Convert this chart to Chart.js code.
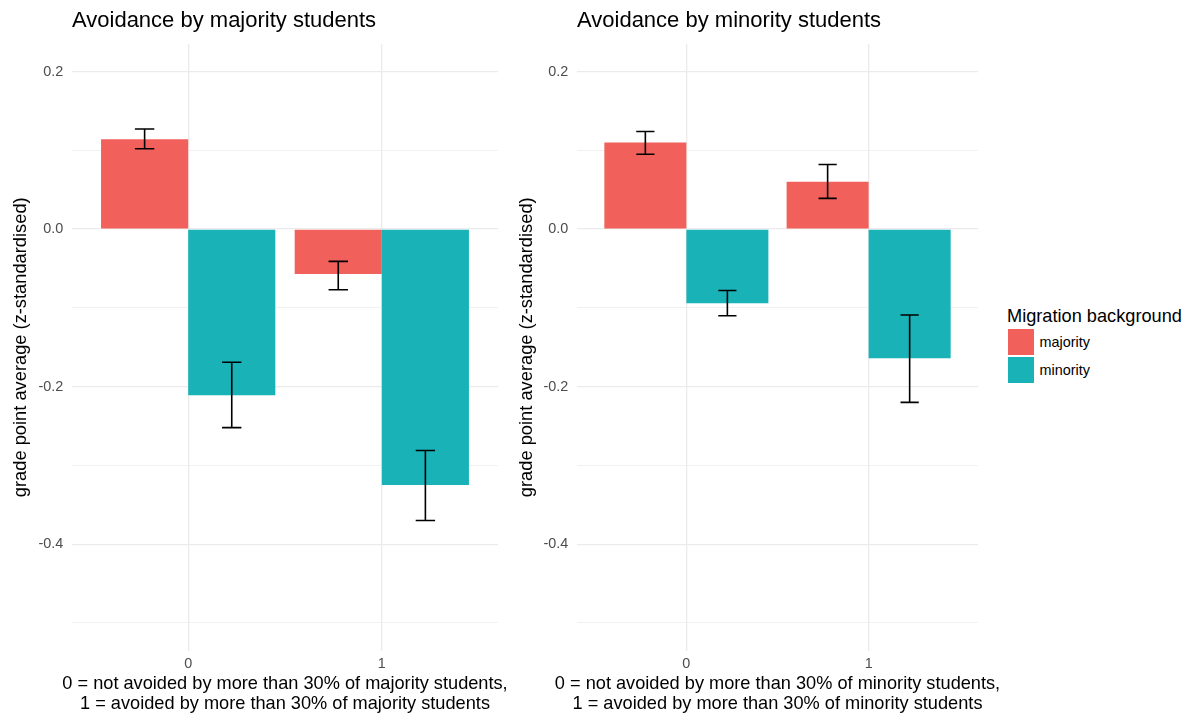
<!DOCTYPE html>
<html>
<head>
<meta charset="utf-8">
<title>Avoidance and grade point average</title>
<script src="https://cdn.jsdelivr.net/npm/chart.js@4.4.1/dist/chart.umd.min.js"></script>
<style>
  html, body { margin: 0; padding: 0; background: #ffffff; }
  body { width: 1197px; height: 714px; position: relative; overflow: hidden;
         font-family: 'Liberation Sans', Arial, Helvetica, sans-serif; }
  .panel { position: absolute; top: 0; height: 714px; }
  #panelLeft { left: 0; width: 506px; }
  #panelRight { left: 506px; width: 494px; }
  #legend { position: absolute; left: 1007px; top: 304.5px; color: #000; }
  #legend .ttl { font-size: 18.2px; line-height: 22px; height: 23px; white-space: nowrap; }
  #legend .row { height: 28.3px; display: flex; align-items: center; }
  #legend .sw { width: 28px; height: 28px; box-sizing: border-box; border: 0.7px solid #fff; }
  #legend .lab { font-size: 14.4px; margin-left: 4.5px; color: #000; }
</style>
</head>
<body>
<div class="panel" id="panelLeft"><canvas id="cLeft"></canvas></div>
<div class="panel" id="panelRight"><canvas id="cRight"></canvas></div>
<div id="legend"></div>
<script>
// x categories (0 = not avoided, 1 = avoided by more than 30%)
const categories = ['0', '1'];
const seriesNames = ['majority', 'minority'];
const seriesColors = ['#F2605B', '#19B3B7'];

// y axis ticks: labelled and minor grid lines
const yMajorTicks = [-0.4, -0.2, 0.0, 0.2];
const yMinorTicks = [-0.5, -0.3, -0.1, 0.1];

// Avoidance by majority students: mean GPA and error bar ends
const avoidMaj_majority     = [0.114, -0.057];
const avoidMaj_majorityLow  = [0.102, -0.077];
const avoidMaj_majorityHigh = [0.127, -0.041];
const avoidMaj_minority     = [-0.211, -0.325];
const avoidMaj_minorityLow  = [-0.252, -0.370];
const avoidMaj_minorityHigh = [-0.169, -0.281];

// Avoidance by minority students: mean GPA and error bar ends
const avoidMin_majority     = [0.110, 0.060];
const avoidMin_majorityLow  = [0.095, 0.039];
const avoidMin_majorityHigh = [0.124, 0.082];
const avoidMin_minority     = [-0.094, -0.164];
const avoidMin_minorityLow  = [-0.110, -0.220];
const avoidMin_minorityHigh = [-0.078, -0.109];

const FONT = "'Liberation Sans', Arial, Helvetica, sans-serif";
const GRID = '#EBEBEB';

// category positions 1..n on a continuous axis, padded by 0.6 on each side
function points(values) {
  return values.map((v, i) => ({ x: i + 1, y: v }));
}

// whiskers with caps drawn on top of each bar
const errorBars = {
  id: 'errorBars',
  afterDatasetsDraw(chart) {
    const { ctx, scales: { x, y } } = chart;
    const capHalf = Math.abs(x.getPixelForValue(1.05) - x.getPixelForValue(1));
    ctx.save();
    ctx.strokeStyle = '#000';
    ctx.lineWidth = 1.6;
    chart.data.datasets.forEach((ds, di) => {
      const meta = chart.getDatasetMeta(di);
      meta.data.forEach((bar, i) => {
        const yLo = y.getPixelForValue(ds.low[i]);
        const yHi = y.getPixelForValue(ds.high[i]);
        const cx = bar.x;
        ctx.beginPath();
        ctx.moveTo(cx, yLo); ctx.lineTo(cx, yHi);
        ctx.moveTo(cx - capHalf, yLo); ctx.lineTo(cx + capHalf, yLo);
        ctx.moveTo(cx - capHalf, yHi); ctx.lineTo(cx + capHalf, yHi);
        ctx.stroke();
      });
    });
    ctx.restore();
  }
};

// two-line x axis caption, centred under the plot area and allowed to run
// wider than it
const xCaption = {
  id: 'xCaption',
  afterDraw(chart, args, opts) {
    const { ctx, chartArea } = chart;
    const cx = (chartArea.left + chartArea.right) / 2;
    ctx.save();
    ctx.font = `${opts.size}px ${FONT}`;
    ctx.fillStyle = '#000';
    ctx.textAlign = 'center';
    ctx.textBaseline = 'middle';
    opts.lines.forEach((line, i) => {
      ctx.fillText(line, cx, opts.firstY + i * opts.lineHeight);
    });
    ctx.restore();
  }
};

function makePanel(canvasId, title, xTitle, series, yAxisWidth, padRight) {
  const datasets = series.map((s, k) => ({
    label: seriesNames[k],
    data: points(s.values),
    low: s.low,
    high: s.high,
    backgroundColor: seriesColors[k],
    borderWidth: 0,
    barPercentage: 1.0,
    categoryPercentage: 0.9
  }));
  return new Chart(document.getElementById(canvasId), {
    type: 'bar',
    data: { datasets },
    plugins: [errorBars, xCaption],
    options: {
      responsive: true,
      maintainAspectRatio: false,
      animation: false,
      layout: { padding: { left: 0, right: padRight, top: 0, bottom: 0 } },
      plugins: {
        legend: { display: false },
        tooltip: { enabled: false },
        title: {
          display: true,
          text: title,
          align: 'start',
          fullSize: false,
          color: '#000',
          font: { family: FONT, size: 22, weight: 'normal', lineHeight: 1.2 },
          padding: { top: 8, bottom: 9.6 }
        },
        xCaption: { lines: xTitle, size: 18.2, firstY: 684, lineHeight: 20 }
      },
      scales: {
        x: {
          type: 'linear',
          min: 0.4,
          max: categories.length + 0.6,
          offset: false,
          afterBuildTicks(scale) {
            scale.ticks = categories.map((c, i) => ({ value: i + 1 }));
          },
          afterFit(scale) { scale.height = 63.5; },
          grid: { color: GRID, lineWidth: 1.3, drawTicks: false, offset: false },
          border: { display: false },
          ticks: {
            color: '#4D4D4D',
            padding: 5,
            font: { family: FONT, size: 14.4 },
            callback: (v) => categories[Math.round(v) - 1]
          },
          title: { display: false }
        },
        y: {
          min: -0.535,
          max: 0.235,
          afterBuildTicks(scale) {
            scale.ticks = yMajorTicks.concat(yMinorTicks)
              .sort((a, b) => a - b)
              .map(v => ({ value: v }));
          },
          afterFit(scale) { scale.width = yAxisWidth; },
          grid: {
            color: GRID,
            drawTicks: false,
            lineWidth: (c) => (yMinorTicks.includes(c.tick.value) ? 0.7 : 1.3)
          },
          border: { display: false },
          ticks: {
            color: '#4D4D4D',
            padding: 8.7,
            font: { family: FONT, size: 14.4 },
            callback: (v) => (yMajorTicks.includes(v) ? v.toFixed(1) : '')
          },
          title: {
            display: true,
            text: 'grade point average (z-standardised)',
            color: '#000',
            font: { family: FONT, size: 18.3, lineHeight: 1.2 },
            padding: { top: 10, bottom: 0 }
          }
        }
      }
    }
  });
}

makePanel('cLeft', 'Avoidance by majority students',
  ['0 = not avoided by more than 30% of majority students,',
   '1 = avoided by more than 30% of majority students'],
  [
    { values: avoidMaj_majority, low: avoidMaj_majorityLow, high: avoidMaj_majorityHigh },
    { values: avoidMaj_minority, low: avoidMaj_minorityLow, high: avoidMaj_minorityHigh }
  ], 72, 8);

makePanel('cRight', 'Avoidance by minority students',
  ['0 = not avoided by more than 30% of minority students,',
   '1 = avoided by more than 30% of minority students'],
  [
    { values: avoidMin_majority, low: avoidMin_majorityLow, high: avoidMin_majorityHigh },
    { values: avoidMin_minority, low: avoidMin_minorityLow, high: avoidMin_minorityHigh }
  ], 71, 22);

// shared legend for the fill colour
const legend = document.getElementById('legend');
const ttl = document.createElement('div');
ttl.className = 'ttl';
ttl.textContent = 'Migration background';
legend.appendChild(ttl);
seriesNames.forEach((name, k) => {
  const row = document.createElement('div');
  row.className = 'row';
  const sw = document.createElement('div');
  sw.className = 'sw';
  sw.style.background = seriesColors[k];
  const lab = document.createElement('span');
  lab.className = 'lab';
  lab.textContent = name;
  row.appendChild(sw);
  row.appendChild(lab);
  legend.appendChild(row);
});
</script>
</body>
</html>
